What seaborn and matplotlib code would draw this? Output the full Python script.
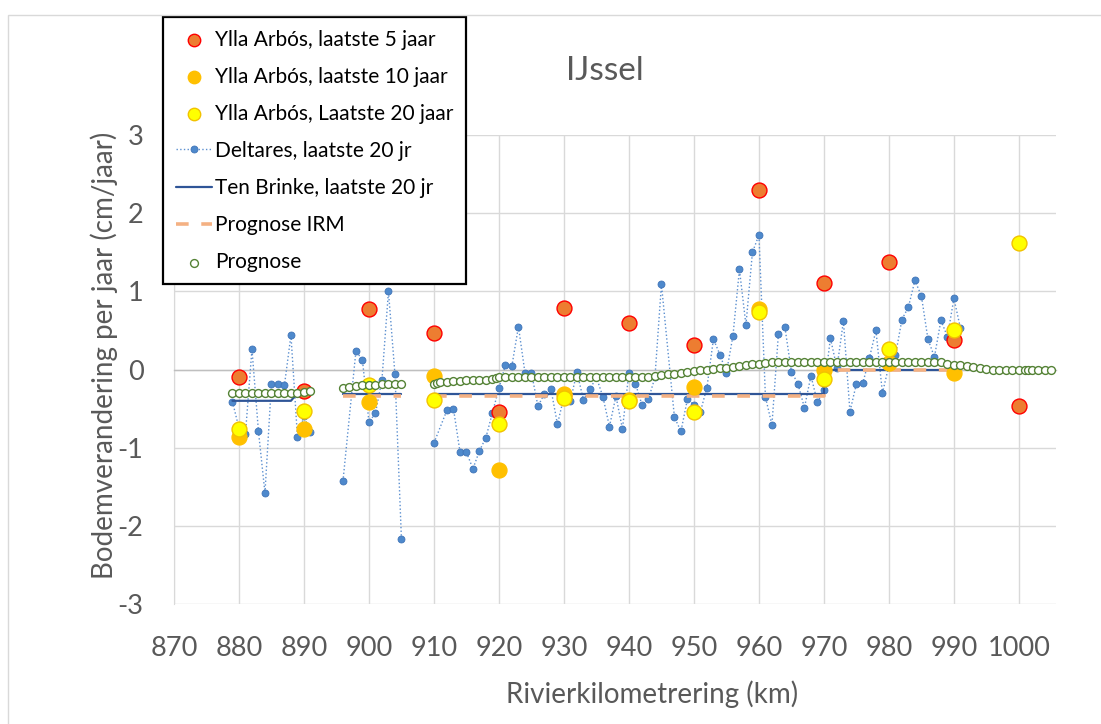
import matplotlib
matplotlib.use("Agg")
import matplotlib.pyplot as plt
from matplotlib.patches import Rectangle
from matplotlib.ticker import MultipleLocator
import numpy as np
import pandas as pd
import seaborn as sns

# Ylla Arbos, one value per 10 km
ya_km = [880, 890, 900, 910, 920, 930, 940, 950, 960, 970, 980, 990, 1000]
ya_5 = [-0.10, -0.28, 0.77, 0.47, -0.54, 0.79, 0.60, 0.32, 2.30, 1.11, 1.38, 0.38, -0.47]
ya_10 = [-0.86, -0.76, -0.42, -0.08, -1.28, -0.31, -0.39, -0.22, 0.77, -0.01, 0.08, -0.05, np.nan]
ya_20 = [-0.76, -0.53, -0.20, -0.39, -0.70, -0.37, -0.40, -0.54, 0.73, -0.12, 0.26, 0.50, 1.62]

# Deltares, laatste 20 jr (nan = gap in the line)
dt_km = [879, 880, 881, 882, 883, 884, 885, 886, 887, 888, 889, 890, 891, 892,
         896, 898, 899, 900, 901, 902, 903, 904, 905, 906,
         910, 912, 913, 914, 915, 916, 917, 918, 919, 920, 921, 922, 923, 924,
         925, 926, 927, 928, 929, 930, 931, 932, 933, 934, 935, 936, 937, 938,
         939, 940, 941, 942, 943, 944, 945, 947, 948, 949, 950, 951, 952, 953,
         954, 955, 956, 957, 958, 959, 960, 961, 962, 963, 964, 965, 966, 967,
         968, 969, 970, 971, 972, 973, 974, 975, 976, 977, 978, 979, 980, 981,
         982, 983, 984, 985, 986, 987, 988, 989, 990, 991]
dt_val = [-0.41, -0.75, -0.82, 0.26, -0.79, -1.58, -0.18, -0.18, -0.20, 0.44, -0.86, -0.60, -0.80, np.nan,
          -1.43, 0.24, 0.12, -0.67, -0.56, -0.13, 1.00, -0.06, -2.17, np.nan,
          -0.94, -0.52, -0.50, -1.05, -1.06, -1.27, -1.04, -0.87, -0.55, -0.24, 0.06, 0.05, 0.55, -0.04,
          -0.04, -0.47, -0.31, -0.25, -0.70, -0.35, -0.40, -0.03, -0.39, -0.25, -0.10, -0.35, -0.73, -0.34,
          -0.76, -0.04, -0.18, -0.45, -0.38, -0.10, 1.09, -0.61, -0.79, -0.38, -0.45, -0.54, -0.23, 0.39,
          0.19, -0.04, 0.43, 1.28, 0.57, 1.50, 1.72, -0.35, -0.71, 0.46, 0.54, -0.03, -0.18, -0.49,
          -0.08, -0.42, -0.26, 0.40, 0.02, 0.62, -0.54, -0.18, -0.17, 0.15, 0.50, -0.30, 0.05, 0.18,
          0.64, 0.80, 1.14, 0.94, 0.39, 0.16, 0.63, 0.42, 0.91, 0.53]

# Ten Brinke, laatste 20 jr (stepwise trend per reach)
tb_km = [879, 888, 889, 891, 896, 905, 910, 970, 970, 991]
tb_val = [-0.40, -0.40, -0.30, -0.30, -0.31, -0.31, -0.31, -0.31, 0.0, 0.0]
tb_seg = [1, 1, 1, 1, 2, 2, 3, 3, 3, 3]

# Prognose IRM
irm_km = [896, 905, 910, 970, 970, 991]
irm_val = [-0.34, -0.34, -0.34, -0.34, 0.0, 0.0]
irm_seg = [1, 1, 2, 2, 2, 2]

# Prognose
pr_km = [879, 880, 881, 882, 883, 884, 885, 886, 887, 888, 889, 890, 891,
         896, 897, 898, 899, 900, 901, 902, 903, 904, 905,
         910, 910.5, 911, 912, 913, 914, 915, 916, 917, 918, 919, 919.5, 920,
         921, 922, 923, 924, 925, 926, 927, 928, 929, 930, 931, 932, 933, 934,
         935, 936, 937, 938, 939, 940, 941, 942, 943, 944, 945, 946, 947, 948,
         949, 950, 951, 952, 953, 954, 955, 956, 957, 958, 959, 960, 961, 962,
         963, 964, 965, 966, 967, 968, 969, 970, 971, 972, 973, 974, 975, 976,
         977, 978, 979, 980, 981, 982, 983, 984, 985, 986, 987, 988, 989, 990,
         991, 992, 993, 994, 995, 996, 997, 998, 999, 1000, 1001, 1001.4, 1002,
         1003, 1004, 1005]
pr_val = [-0.30, -0.30, -0.30, -0.30, -0.30, -0.30, -0.30, -0.30, -0.30, -0.30, -0.30, -0.29, -0.28,
          -0.24, -0.22, -0.21, -0.20, -0.20, -0.20, -0.19, -0.19, -0.18, -0.18,
          -0.18, -0.17, -0.16, -0.16, -0.15, -0.15, -0.14, -0.14, -0.13, -0.13, -0.12, -0.11, -0.10,
          -0.10, -0.10, -0.10, -0.10, -0.10, -0.10, -0.10, -0.10, -0.10, -0.10, -0.10, -0.10, -0.10, -0.10,
          -0.10, -0.10, -0.10, -0.10, -0.10, -0.10, -0.10, -0.10, -0.10, -0.085, -0.07, -0.06, -0.055, -0.04,
          -0.035, -0.02, -0.01, 0.0, 0.01, 0.015, 0.02, 0.03, 0.04, 0.055, 0.065, 0.075, 0.085, 0.09,
          0.10, 0.10, 0.10, 0.10, 0.10, 0.10, 0.10, 0.10, 0.10, 0.10, 0.10, 0.10, 0.10, 0.10,
          0.10, 0.10, 0.10, 0.10, 0.10, 0.10, 0.10, 0.10, 0.10, 0.10, 0.10, 0.10, 0.07, 0.06,
          0.06, 0.05, 0.03, 0.02, 0.01, 0.0, 0.0, 0.0, 0.0, 0.0, 0.0, 0.0, 0.0,
          0.0, 0.0, 0.0]

x_ticks = list(range(870, 1001, 10))
y_ticks = [-3, -2, -1, 0, 1, 2, 3]

sns.set_style("white")
plt.rcParams["font.family"] = ["Lato", "DejaVu Sans"]
plt.rcParams["axes.unicode_minus"] = False

grey = "#595959"
gridc = "#D9D9D9"

fig = plt.figure(figsize=(11.01, 7.24), dpi=100)
ax = fig.add_axes([0.158, 0.1657, 0.8011, 0.6478])

deltares = pd.DataFrame({"km": dt_km, "val": dt_val})
deltares["seg"] = deltares["val"].isna().cumsum()
deltares = deltares.dropna()
sns.lineplot(data=deltares, x="km", y="val", units="seg", estimator=None, sort=False,
             color="#5B8FD0", linestyle=":", linewidth=1.0, marker="o", markersize=5,
             markerfacecolor="#4E89CC", markeredgecolor="#3F74B8", markeredgewidth=0.6,
             label="Deltares, laatste 20 jr", ax=ax, zorder=3)

tb = pd.DataFrame({"km": tb_km, "val": tb_val, "seg": tb_seg})
sns.lineplot(data=tb, x="km", y="val", units="seg", estimator=None, sort=False,
             color="#2F5597", linewidth=1.6, label="Ten Brinke, laatste 20 jr", ax=ax, zorder=4)

irm = pd.DataFrame({"km": irm_km, "val": irm_val, "seg": irm_seg})
sns.lineplot(data=irm, x="km", y="val", units="seg", estimator=None, sort=False,
             color="#F4B183", linewidth=2.6, label="Prognose IRM", ax=ax, zorder=4)
for ln in ax.lines:
    if ln.get_label() == "Prognose IRM":
        ln.set_dashes([3.5, 3.5])

sns.scatterplot(x=ya_km, y=ya_5, s=115, color="#ED7D31", edgecolor="#FF0000", linewidth=1.0,
                label="Ylla Arbós, laatste 5 jaar", ax=ax, zorder=5)
sns.scatterplot(x=ya_km, y=ya_10, s=115, color="#FFC000", edgecolor="#FFC000", linewidth=1.0,
                label="Ylla Arbós, laatste 10 jaar", ax=ax, zorder=6)
sns.scatterplot(x=ya_km, y=ya_20, s=115, color="#FFFF00", edgecolor="#F2C200", linewidth=1.0,
                label="Ylla Arbós, Laatste 20 jaar", ax=ax, zorder=7)
sns.scatterplot(x=pr_km, y=pr_val, s=32, color="white", edgecolor="#548235", linewidth=1.0,
                label="Prognose", ax=ax, zorder=8)

ax.set_xlim(870, 1005.7)
ax.set_ylim(-3, 3)
ax.set_xticks(x_ticks)
ax.xaxis.set_minor_locator(MultipleLocator(2))
ax.set_yticks(y_ticks)
ax.grid(True, which="major", color=gridc, linewidth=1.0)
ax.set_axisbelow(True)

for side in ["top", "right"]:
    ax.spines[side].set_visible(False)
ax.spines["left"].set_color(gridc)
ax.spines["bottom"].set_position(("data", 0))
ax.spines["bottom"].set_color("#BFBFBF")
ax.spines["bottom"].set_linewidth(1.0)
ax.tick_params(axis="x", which="both", direction="out", length=6, color="#BFBFBF",
               labelbottom=False)
ax.tick_params(axis="y", length=0, labelsize=19.5, labelcolor=grey, pad=22)

secax = ax.secondary_xaxis("bottom")
secax.set_xticks(x_ticks)
secax.tick_params(length=0, labelsize=19.5, labelcolor=grey, pad=23)
secax.spines["bottom"].set_visible(False)

ax.set_xlabel("Rivierkilometrering (km)", fontsize=20, color=grey)
ax.xaxis.set_label_coords((652 - 174) / 882, (604 - 680) / 469)
ax.set_ylabel("Bodemverandering per jaar (cm/jaar)", fontsize=20, color=grey)
ax.yaxis.set_label_coords((118 - 174) / 882, (604 - 355) / 469)

fig.text(605 / 1101, 1 - 71 / 724, "IJssel", ha="center", va="center", fontsize=24, color=grey)

order = ["Ylla Arbós, laatste 5 jaar", "Ylla Arbós, laatste 10 jaar", "Ylla Arbós, Laatste 20 jaar",
         "Deltares, laatste 20 jr", "Ten Brinke, laatste 20 jr", "Prognose IRM", "Prognose"]
handles, labels = ax.get_legend_handles_labels()
lookup = dict(zip(labels, handles))
leg = ax.legend([lookup[k] for k in order], order, loc="upper left",
                bbox_to_anchor=(163 / 1101, 1 - 17 / 724), bbox_transform=fig.transFigure,
                frameon=True, fancybox=False, edgecolor="black", framealpha=1,
                fontsize=15, borderpad=0.6, labelspacing=0.82, handlelength=1.75,
                handletextpad=0.15, borderaxespad=0)
leg.get_frame().set_linewidth(1.6)
leg.set_zorder(20)
for h in leg.legend_handles[:3]:
    h.set_sizes([80])
for t in leg.get_texts():
    t.set_color("black")

fig.add_artist(Rectangle((8 / 1101, -0.1), 2, 1 - 15 / 724 + 0.1, transform=fig.transFigure,
                         fill=False, edgecolor=gridc, linewidth=1.0))

fig.savefig("out.png", dpi=100)
